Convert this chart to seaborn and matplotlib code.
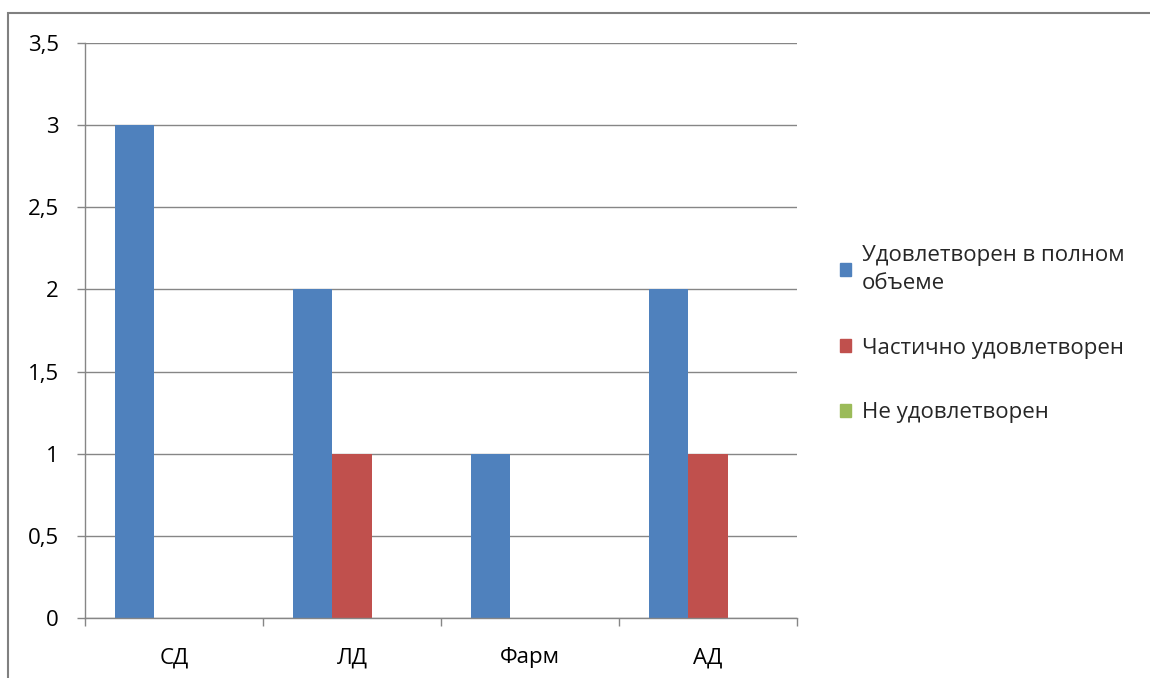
import matplotlib

matplotlib.use("Agg")
import matplotlib.pyplot as plt
import matplotlib.patches as mpatches
import numpy as np
import pandas as pd
import seaborn as sns

categories = ["СД", "ЛД", "Фарм", "АД"]
series_names = ["Удовлетворен в полном\nобъеме", "Частично удовлетворен", "Не удовлетворен"]
full_values = [3, 2, 1, 2]
partial_values = [0, 1, 0, 1]
none_values = [0, 0, 0, 0]
y_ticks = [0, 0.5, 1, 1.5, 2, 2.5, 3, 3.5]
y_tick_labels = ["0", "0,5", "1", "1,5", "2", "2,5", "3", "3,5"]
colors = ["#4F81BD", "#C0504D", "#9BBB59"]

rows = []
for name, vals in zip(series_names, [full_values, partial_values, none_values]):
    for cat, v in zip(categories, vals):
        rows.append({"cat": cat, "series": name, "value": v})
df = pd.DataFrame(rows)

sns.set_theme(style="white")
plt.rcParams["font.family"] = ["Open Sans", "DejaVu Sans"]

fig = plt.figure(figsize=(11.5, 6.78), dpi=100)
ax = fig.add_axes([85 / 1150, 1 - 618 / 678, 712 / 1150, 575 / 678])

sns.barplot(data=df, x="cat", y="value", hue="series", palette=colors,
            width=0.667, saturation=1, ax=ax, errorbar=None, linewidth=0)

grid_c = "#868686"
fs = 16
ax.set_xlim(-0.5, 3.5)
ax.set_ylim(0, 3.5)
ax.set_yticks(y_ticks)
ax.set_yticklabels(y_tick_labels)
ax.set_axisbelow(True)
ax.yaxis.grid(True, color=grid_c, lw=1)
ax.xaxis.grid(False)
ax.set_xlabel("")
ax.set_ylabel("")
for side in ["top", "right"]:
    ax.spines[side].set_visible(False)
for side in ["left", "bottom"]:
    ax.spines[side].set_color(grid_c)
    ax.spines[side].set_linewidth(1)

ax.set_xticks(np.arange(-0.5, 4, 1), minor=True)
ax.tick_params(axis="x", which="major", length=0, pad=21, labelsize=fs, colors="black")
ax.tick_params(axis="x", which="minor", length=6, width=1, color=grid_c, direction="out", bottom=True)
ax.tick_params(axis="y", length=6, width=1, color=grid_c, direction="out", left=True,
               pad=13, labelsize=fs, labelcolor="black")

handles = [mpatches.Patch(color=c) for c in colors]
leg = ax.legend(handles, series_names, loc="center left", bbox_to_anchor=(1.032, 0.494),
                frameon=False, fontsize=fs, handlelength=0.5, handleheight=0.5,
                handletextpad=0.5, labelspacing=1.97)
for t in leg.get_texts():
    t.set_linespacing(1.45)

fig.patches.append(mpatches.Rectangle((8 / 1150, -0.1), 1.2, 1.1 - 13 / 678,
                                      transform=fig.transFigure, fill=False,
                                      edgecolor="#808080", lw=1.5))

fig.savefig("out.png", dpi=100)
